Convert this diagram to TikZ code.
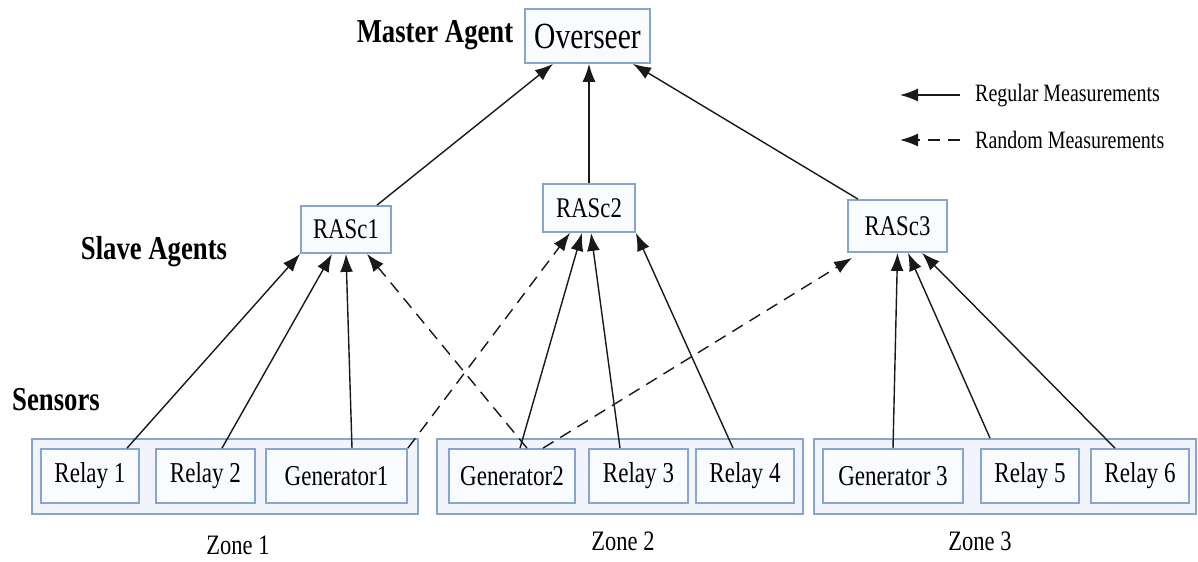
\documentclass[tikz,border=0pt]{standalone}
\usepackage{fontspec}
\setmainfont{Liberation Serif}[FakeStretch=0.8]
\usetikzlibrary{arrows.meta}
\definecolor{boxline}{RGB}{135,165,205}
\definecolor{boxfill}{RGB}{249,251,254}
\definecolor{zonefill}{RGB}{241,245,251}
\definecolor{wire}{RGB}{25,25,25}

\begin{document}
\begin{tikzpicture}[
        unitbox/.style={draw=boxline, fill=boxfill, line width=1pt, inner sep=0pt,
            minimum height=1.08cm, font=\fontsize{16.4}{18}\selectfont},
        zonebox/.style={draw=boxline, fill=zonefill, line width=1pt, inner sep=0pt,
            minimum height=1.5cm},
        agentbox/.style={draw=boxline, fill=boxfill, line width=1pt, inner sep=0pt,
            font=\fontsize{16.2}{18}\selectfont},
        levellabel/.style={font=\fontsize{19}{21}\bfseries\selectfont},
        zonelabel/.style={font=\fontsize{16}{18}\selectfont},
        legendlabel/.style={anchor=west, font=\fontsize{14.2}{16}\selectfont},
        regular/.style={draw=wire, line width=0.8pt, -{Latex[length=3.6mm,width=2.6mm]}},
        random/.style={regular, dash pattern=on 7pt off 4.5pt}
    ]
                \useasboundingbox (0, 0) rectangle (23.96, -11.22);
                \node[agentbox, minimum width=2.5cm, minimum height=1.08cm,
                    font=\fontsize{21}{23}\selectfont] (overseer) at (11.75, -0.72) {Overseer};
                \node[levellabel] (master) at (8.7, -0.7) {Master Agent};
                \node[agentbox, minimum width=1.8cm, minimum height=0.94cm] (rasc1) at (6.92, -4.59) {RASc1};
                \node[agentbox, minimum width=1.84cm, minimum height=0.96cm] (rasc2) at (11.78, -4.16) {RASc2};
                \node[agentbox, minimum width=1.98cm, minimum height=1.04cm] (rasc3) at (17.95, -4.52) {RASc3};
                \node[levellabel] (slave) at (3.08, -5.04) {Slave Agents};
                \node[levellabel] (sensors) at (1.12, -8.0) {Sensors};
                \node[zonebox, minimum width=7.72cm] (zone1) at (4.5, -9.53) {};
                \node[zonebox, minimum width=7.32cm] (zone2) at (12.4, -9.53) {};
                \node[zonebox, minimum width=7.64cm] (zone3) at (20.1, -9.53) {};
                \node[unitbox, minimum width=1.96cm] (relay1) at (1.8, -9.52) {Relay 1};
                \node[unitbox, minimum width=1.98cm] (relay2) at (4.11, -9.52) {Relay 2};
                \node[unitbox, minimum width=2.82cm] (gen1) at (6.73, -9.52) {Generator1};
                \node[unitbox, minimum width=2.52cm] (gen2) at (10.24, -9.52) {Generator2};
                \node[unitbox, minimum width=1.98cm] (relay3) at (12.77, -9.52) {Relay 3};
                \node[unitbox, minimum width=1.96cm] (relay4) at (14.9, -9.52) {Relay 4};
                \node[unitbox, minimum width=2.8cm] (gen3) at (17.86, -9.52) {Generator 3};
                \node[unitbox, minimum width=1.96cm] (relay5) at (20.6, -9.52) {Relay 5};
                \node[unitbox, minimum width=1.96cm] (relay6) at (22.8, -9.52) {Relay 6};
                \node[zonelabel] (zonelab1) at (4.76, -10.9) {Zone 1};
                \node[zonelabel] (zonelab2) at (12.46, -10.82) {Zone 2};
                \node[zonelabel] (zonelab3) at (19.6, -10.82) {Zone 3};
                \draw[regular] ([xshift=0.62cm]rasc1.north) -- ([xshift=-0.69cm]overseer.south);
                \draw[regular] (rasc2.north) -- (rasc2.north |- overseer.south);
                \draw[regular] ([xshift=-0.79cm]rasc3.north) -- ([xshift=0.91cm]overseer.south);
                \draw[regular] ([xshift=0.74cm]relay1.north) -- (rasc1.south west);
                \draw[regular] ([xshift=0.33cm]relay2.north) -- ([xshift=-0.28cm]rasc1.south);
                \draw[regular] ([xshift=0.31cm]gen1.north) -- (rasc1.south);
                \draw[regular] ([xshift=0.16cm]gen2.north) -- ([xshift=-0.14cm]rasc2.south);
                \draw[regular] ([xshift=-0.37cm]relay3.north) -- ([xshift=0.04cm]rasc2.south);
                \draw[regular] ([xshift=-0.24cm]relay4.north) -- (rasc2.south east);
                \draw[regular] (gen3.north) -- (rasc3.south);
                \draw[regular] ([xshift=-0.8cm, yshift=0.2cm]relay5.north) -- ([xshift=0.21cm]rasc3.south);
                \draw[regular] ([xshift=-0.5cm]relay6.north) -- ([xshift=0.49cm]rasc3.south);
                \draw[random] ([xshift=0.3cm]gen2.north) -- ([xshift=0.42cm]rasc1.south);
                \draw[random] (gen1.north east) -- ([xshift=-0.38cm]rasc2.south);
                \draw[random] ([xshift=0.62cm]gen2.north) -- ([xshift=0.1cm, yshift=-0.1cm]rasc3.south west);
                \coordinate (regstart) at (19.2, -1.9);
                \coordinate (regend) at (18.0, -1.9);
                \coordinate (randstart) at (19.2, -2.8);
                \coordinate (randend) at (18.0, -2.8);
                \draw[regular] (regstart) -- (regend);
                \draw[random] (randstart) -- (randend);
                \node[legendlabel] (reglab) at (19.38, -1.92) {Regular Measurements};
                \node[legendlabel] (randlab) at (19.38, -2.8) {Random Measurements};
            \end{tikzpicture}
\end{document}
